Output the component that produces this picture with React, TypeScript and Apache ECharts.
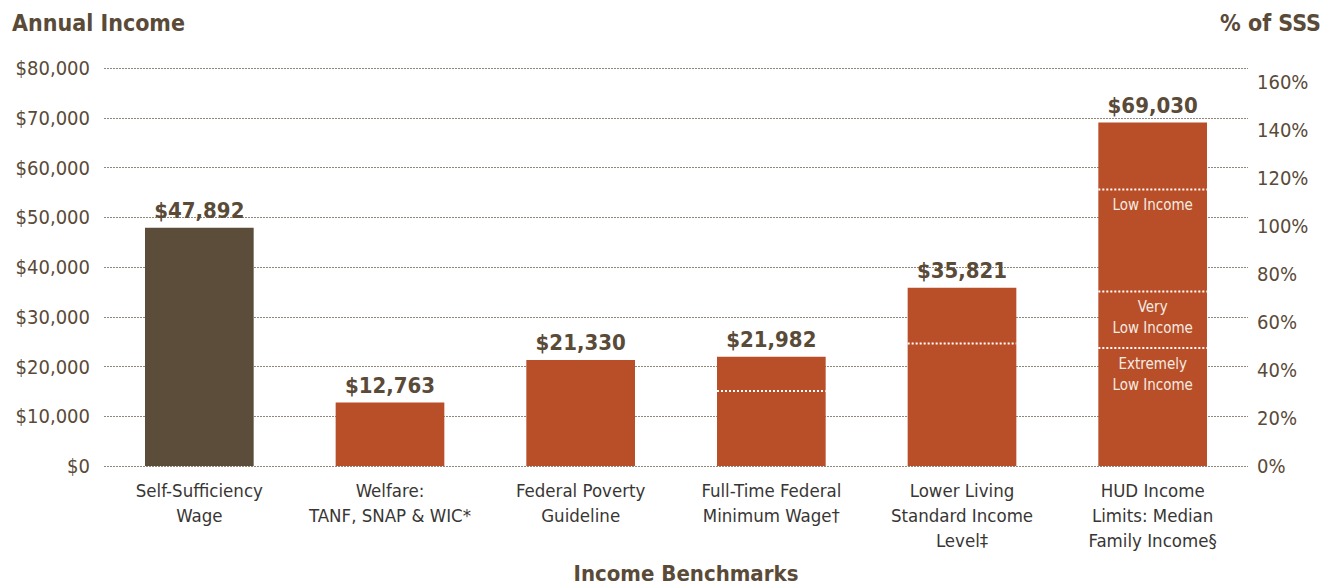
import React, { useEffect, useRef } from "react";
import * as echarts from "echarts";

const categories = [
  "Self-Sufficiency\nWage",
  "Welfare:\nTANF, SNAP & WIC*",
  "Federal Poverty\nGuideline",
  "Full-Time Federal\nMinimum Wage†",
  "Lower Living\nStandard Income\nLevel‡",
  "HUD Income\nLimits: Median\nFamily Income§",
];
const incomeValues = [47892, 12763, 21330, 21982, 35821, 69030];
const leftTicks = { min: 0, max: 80000, interval: 10000 };
const pctAxis = { min: 0, max: 166, interval: 20 };

const markerCategory = [3, 4, 5, 5, 5];
const markerValues = [15080, 24600, 55600, 35100, 23700];
const markerLabels = ["", "", "Low Income", "Very\nLow Income", "Extremely\nLow Income"];

const FF = '"Liberation Sans Narrow", "DejaVu Sans Condensed", "Roboto Condensed", "Open Sans", sans-serif';
const BROWN = "#5a4a38";
const DARK_BAR = "#5c4d3b";
const RUST = "#b84f28";
const BAR_RATIO = 0.57;

export default function App() {
  const ref = useRef<HTMLDivElement>(null);
  useEffect(() => {
    document.body.style.margin = "0";
    const chart = echarts.init(ref.current!, null, { renderer: "svg" });
    chart.setOption({
      animation: false,
      textStyle: { fontFamily: FF },
      grid: { left: 104, right: 77, top: 68, bottom: 118 },
      xAxis: {
        type: "category",
        data: categories,
        axisLine: { show: false },
        axisTick: { show: false },
        axisLabel: {
          fontFamily: FF,
          fontSize: 18.5,
          lineHeight: 25,
          color: "#383634",
          margin: 12,
          interval: 0,
        },
      },
      yAxis: [
        {
          type: "value",
          min: leftTicks.min,
          max: leftTicks.max,
          interval: leftTicks.interval,
          axisLine: { show: false },
          axisTick: { show: false },
          splitLine: { lineStyle: { type: [2, 1], color: "#8f867c", width: 1 } },
          axisLabel: {
            fontFamily: FF,
            fontSize: 20,
            color: BROWN,
            margin: 14,
            formatter: (v: number) => "$" + v.toLocaleString("en-US"),
          },
        },
        {
          type: "value",
          min: pctAxis.min,
          max: pctAxis.max,
          interval: pctAxis.interval,
          axisLine: { show: false },
          axisTick: { show: false },
          splitLine: { show: false },
          axisLabel: {
            fontFamily: FF,
            fontSize: 20,
            color: BROWN,
            margin: 9,
            formatter: (v: number) =>
              Math.abs(v / pctAxis.interval - Math.round(v / pctAxis.interval)) < 1e-6
                ? Math.round(v) + "%"
                : "",
          },
        },
      ],
      series: [
        {
          type: "bar",
          barWidth: BAR_RATIO * 100 + "%",
          data: incomeValues.map((v, i) => ({
            value: v,
            itemStyle: { color: i === 0 ? DARK_BAR : RUST },
          })),
          label: {
            show: true,
            position: "top",
            distance: 6,
            fontFamily: FF,
            fontSize: 22,
            fontWeight: "bold",
            color: BROWN,
            formatter: (p: any) => "$" + Number(p.value).toLocaleString("en-US"),
          },
          z: 2,
        },
        {
          type: "custom",
          coordinateSystem: "cartesian2d",
          data: markerValues.map((v, i) => [markerCategory[i], v]),
          encode: { x: 0, y: 1 },
          clip: false,
          z: 5,
          renderItem: (params: any, api: any) => {
            const idx = api.value(0);
            const v = api.value(1);
            const pt = api.coord([idx, v]);
            const bw = api.size([1, 0])[0] * BAR_RATIO;
            const label = markerLabels[params.dataIndex];
            const children: any[] = [
              {
                type: "line",
                shape: { x1: pt[0] - bw / 2, y1: pt[1], x2: pt[0] + bw / 2, y2: pt[1] },
                style: { stroke: "#ffffff", lineWidth: 2, lineDash: [2, 2] },
              },
            ];
            if (label) {
              children.push({
                type: "text",
                x: pt[0],
                y: pt[1] + 5,
                style: {
                  text: label,
                  fill: "#f6ebe3",
                  fontFamily: FF,
                  fontSize: 15,
                  lineHeight: 21,
                  align: "center",
                  verticalAlign: "top",
                },
              });
            }
            return { type: "group", children };
          },
        },
      ],
      graphic: [
        {
          type: "text",
          left: 12,
          top: 11,
          style: { text: "Annual Income", fontFamily: FF, fontSize: 23, fontWeight: "bold", fill: BROWN },
        },
        {
          type: "text",
          right: 4,
          top: 11,
          style: { text: "% of SSS", fontFamily: FF, fontSize: 23, fontWeight: "bold", fill: BROWN },
        },
        {
          type: "text",
          x: 686,
          y: 573,
          style: {
            text: "Income Benchmarks",
            fontFamily: FF,
            fontSize: 22,
            fontWeight: "bold",
            fill: BROWN,
            textAlign: "center",
            textVerticalAlign: "middle",
          },
        },
      ],
    });
    return () => chart.dispose();
  }, []);
  return <div ref={ref} style={{ width: 1325, height: 584 }} />;
}
